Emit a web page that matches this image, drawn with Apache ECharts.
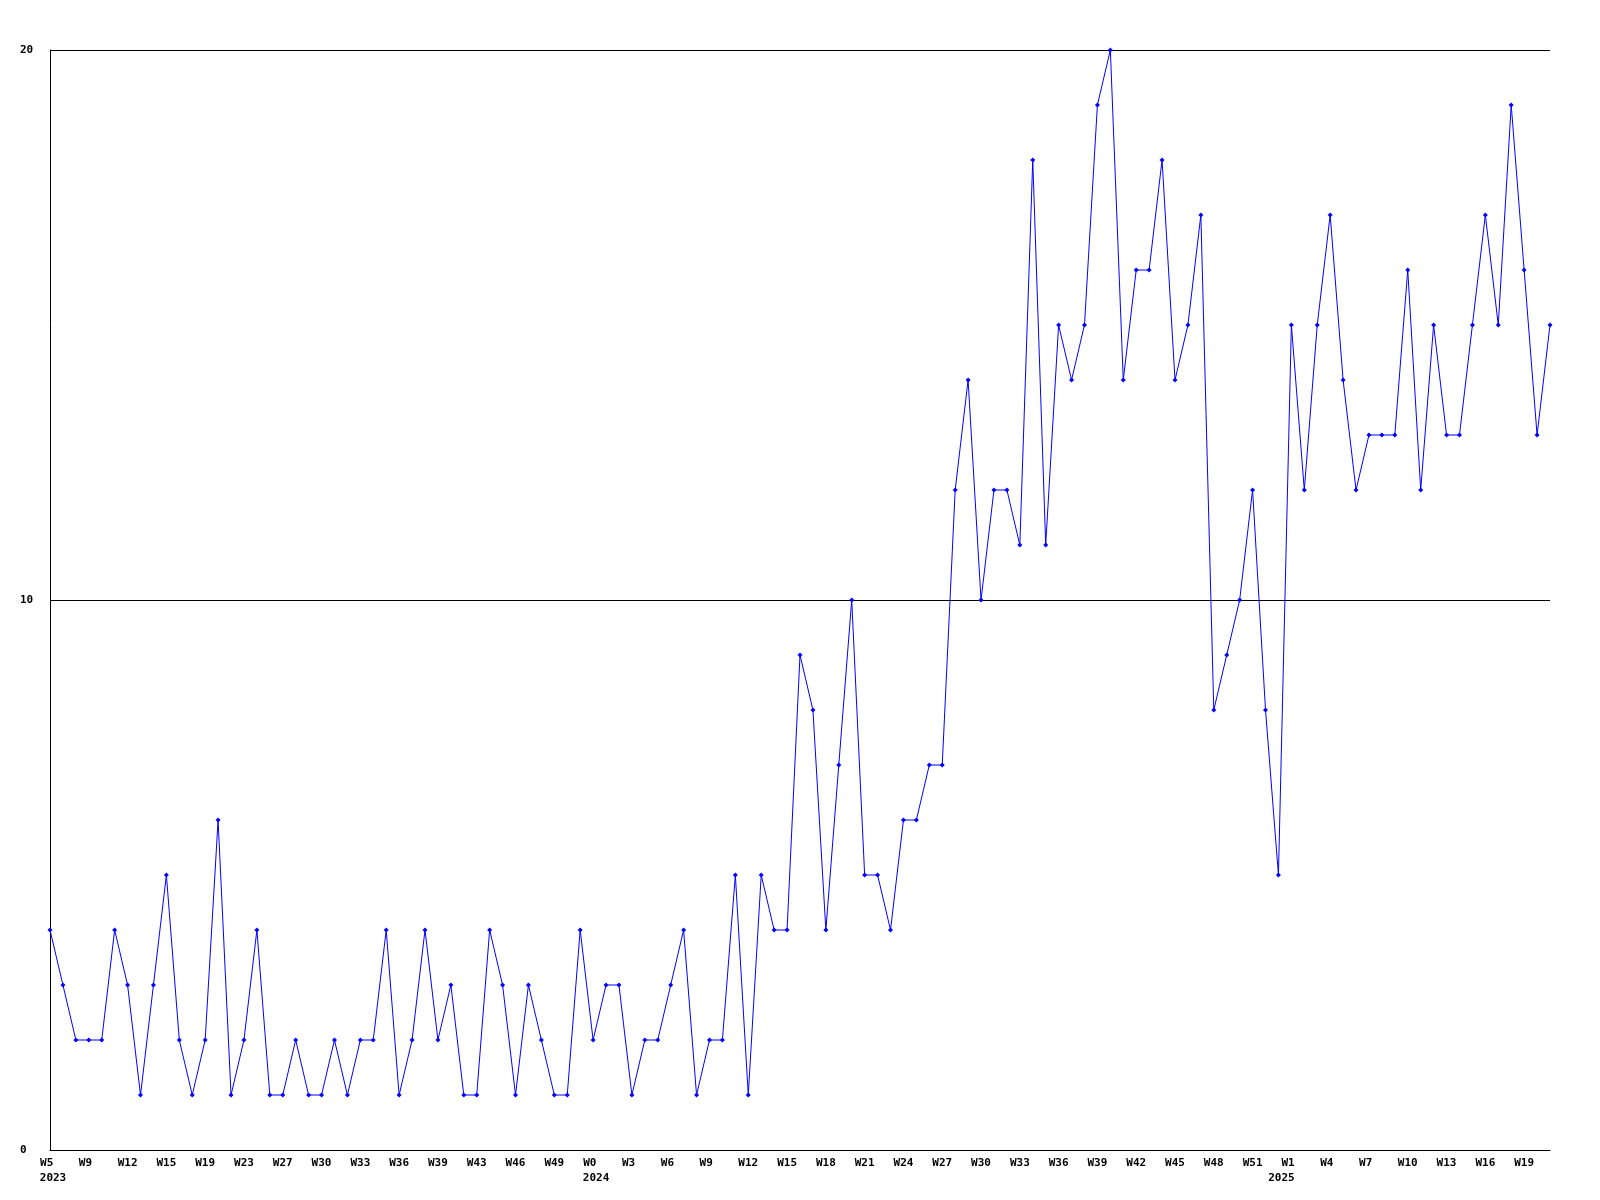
<!DOCTYPE html>
<html>
<head>
<meta charset="utf-8">
<script src="https://cdn.jsdelivr.net/npm/echarts@6/dist/echarts.min.js"></script>
<style>html,body{margin:0;padding:0;background:#fff}#c{width:1600px;height:1200px}</style>
</head>
<body>
<div id="c"></div>
<script>
const categories = [
"W5","W6","W8","W9","W10","W11","W12","W13","W14","W15","W16","W17","W19","W20","W21","W23","W24","W25","W27","W28","W29","W30","W31","W32","W33","W34","W35","W36","W37","W38","W39","W40","W42","W43","W44","W45","W46","W47","W48","W49","W50","W51",
"W0","W1","W2","W3","W4","W5","W6","W7","W8","W9","W10","W11","W12","W13","W14","W15","W16","W17","W18","W19","W20","W21","W22","W23","W24","W25","W26","W27","W28","W29","W30","W31","W32","W33","W34","W35","W36","W37","W38","W39","W40","W41","W42","W43","W44","W45","W46","W47","W48","W49","W50","W51","W52",
"W0","W1","W2","W3","W4","W5","W6","W7","W8","W9","W10","W11","W12","W13","W14","W15","W16","W17","W18","W19","W20","W21"
];
const yearStartIndex = [0, 42, 95];
const yearLabels = ["2023", "2024", "2025"];
const values = [
4,3,2,2,2,4,3,1,3,5,2,1,2,6,1,2,4,1,1,2,1,1,2,1,2,2,4,1,2,4,2,3,1,1,4,3,1,3,2,1,1,4,
2,3,3,1,2,2,3,4,1,2,2,5,1,5,4,4,9,8,4,7,10,5,5,4,6,6,7,7,12,14,10,12,12,11,18,11,15,14,15,19,20,14,16,16,18,14,15,17,8,9,10,12,8,5,
15,12,15,17,14,12,13,13,13,16,12,15,13,13,15,17,15,19,16,13,15
];
const yTicks = [0, 10, 20];

const chart = echarts.init(document.getElementById('c'));
const font = { fontFamily: 'DejaVu Sans Mono', fontWeight: 'bold', fontSize: 11, color: '#000' };
const idxOf = {};
categories.forEach((c, i) => {});
chart.setOption({
  animation: false,
  backgroundColor: '#fff',
  grid: { left: 50, right: 50, top: 50, bottom: 50, containLabel: false },
  xAxis: [{
    type: 'category',
    data: categories,
    boundaryGap: false,
    axisLine: { show: true, lineStyle: { color: '#000', width: 1 } },
    axisTick: { show: false },
    axisLabel: Object.assign({
      interval: 2, margin: 8, align: 'center',
      formatter: v => '{w|' + v.padEnd(3, ' ') + '}',
      rich: { w: Object.assign({}, font) }
    }, font),
    splitLine: { show: false }
  }, {
    type: 'category',
    data: categories.map((c, i) => String(i)),
    position: 'bottom',
    boundaryGap: false,
    axisLine: { show: false },
    axisTick: { show: false },
    axisLabel: Object.assign({
      interval: 0, margin: 23, align: 'center',
      formatter: v => {
        const k = yearStartIndex.indexOf(Number(v));
        return k >= 0 ? '{y|' + yearLabels[k] + '}' : '';
      },
      rich: { y: Object.assign({ padding: [0, 0, 0, 6] }, font) }
    }, font),
    splitLine: { show: false }
  }],
  yAxis: {
    type: 'value',
    min: yTicks[0], max: yTicks[yTicks.length - 1], interval: 10,
    axisLine: { show: true, lineStyle: { color: '#000', width: 1 } },
    axisTick: { show: false },
    axisLabel: Object.assign({ margin: 30, align: 'left' }, font),
    splitLine: { show: true, lineStyle: { color: '#000', width: 1 } }
  },
  series: [{
    type: 'line',
    xAxisIndex: 0,
    data: values,
    symbol: 'diamond',
    symbolSize: 5,
    showAllSymbol: true,
    lineStyle: { color: '#0000ff', width: 1 },
    itemStyle: { color: '#0000ff', borderWidth: 0 }
  }]
});
</script>
</body>
</html>
